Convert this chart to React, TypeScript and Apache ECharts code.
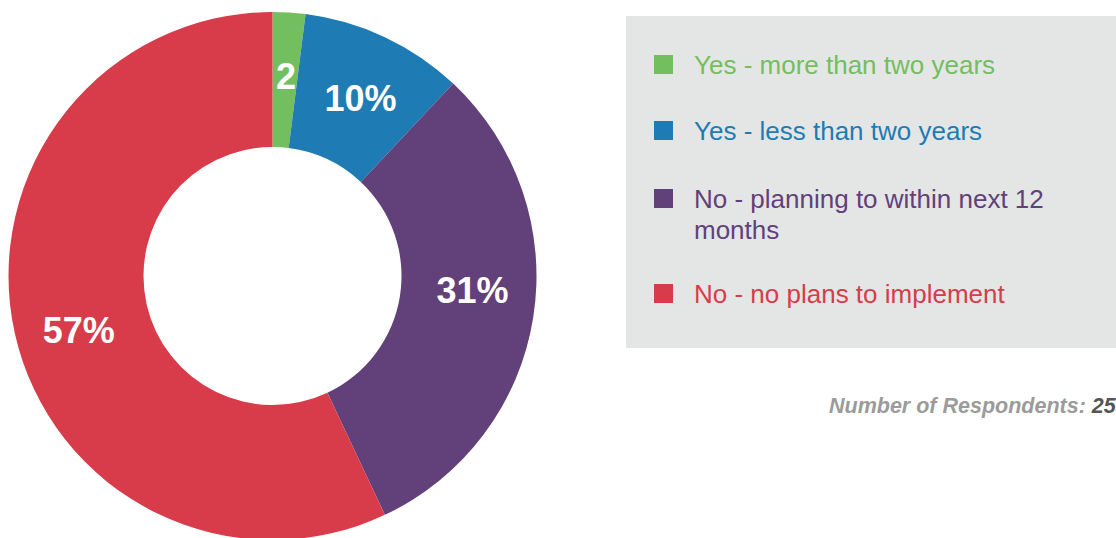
import React, { useEffect, useRef } from "react";
import * as echarts from "echarts";

const categories = [
  "Yes - more than two years",
  "Yes - less than two years",
  "No - planning to within next 12 months",
  "No - no plans to implement",
];
const values = [2, 10, 31, 57];
const sliceLabels = ["2", "10%", "31%", "57%"];
const colors = ["#73be5e", "#1f7bb4", "#62407a", "#d83c4a"];
const respondentsLabel = "Number of Respondents: ";
const respondentsCount = "255";

const labelShift: [number, number][] = [
  [1, 0],
  [3, 3],
  [3, -17],
  [1, 11],
];

const FONT = "'Liberation Sans', Arial, Helvetica, sans-serif";

export default function App() {
  const ref = useRef<HTMLDivElement>(null);
  useEffect(() => {
    if (!ref.current) return;
    const chart = echarts.init(ref.current, undefined, { renderer: "svg" });
    const legendTops = [55, 121, 189, 284];
    const legendGraphics: any[] = [
      {
        type: "rect",
        shape: { x: 626, y: 16, width: 520, height: 332 },
        style: { fill: "#e4e6e5" },
        silent: true,
      },
    ];
    categories.forEach((c, i) => {
      legendGraphics.push({
        type: "rect",
        shape: { x: 654, y: legendTops[i], width: 19, height: 19 },
        style: { fill: colors[i] },
      });
      legendGraphics.push({
        type: "text",
        x: 694,
        y: legendTops[i] + 10 - 15.5,
        style: {
          text: c,
          fill: colors[i],
          font: `26px ${FONT}`,
          lineHeight: 31,
          width: 380,
          overflow: "break",
          verticalAlign: "top",
          align: "left",
        },
      });
    });
    const footStyle = {
      fontFamily: FONT,
      fontSize: 21.5,
      fontWeight: "bold",
      fontStyle: "italic",
    };
    legendGraphics.push({
      type: "text",
      x: 829,
      y: 406,
      style: {
        text: `{a|${respondentsLabel}}{b|${respondentsCount}}`,
        verticalAlign: "middle",
        align: "left",
        rich: {
          a: { ...footStyle, fill: "#9b9b9b", color: "#9b9b9b" },
          b: { ...footStyle, fill: "#555555", color: "#555555" },
        },
      },
    });

    chart.setOption({
      animation: false,
      backgroundColor: "#ffffff",
      graphic: legendGraphics,
      series: [
        {
          type: "pie",
          center: [272.5, 276],
          radius: [129, 264],
          startAngle: 90,
          clockwise: true,
          avoidLabelOverlap: false,
          silent: true,
          label: {
            show: true,
            position: "inside",
            color: "#ffffff",
            fontSize: 36,
            fontWeight: "bold",
            fontFamily: FONT,
            formatter: (p: any) => sliceLabels[p.dataIndex],
          },
          labelLine: { show: false },
          labelLayout: (p: any) => ({
            dx: labelShift[p.dataIndex][0],
            dy: labelShift[p.dataIndex][1],
          }),
          data: categories.map((name, i) => ({
            name,
            value: values[i],
            itemStyle: { color: colors[i] },
          })),
        },
      ],
    });
    return () => chart.dispose();
  }, []);
  return (
    <div
      ref={ref}
      style={{ position: "fixed", left: 0, top: 0, width: 1116, height: 538 }}
    />
  );
}
